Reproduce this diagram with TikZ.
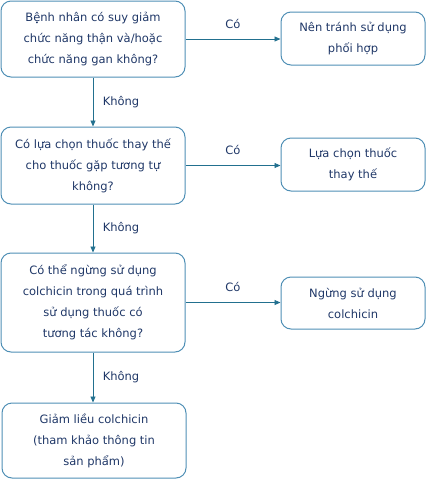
\documentclass[tikz,border=0pt]{standalone}
\usepackage{fontspec}
\setmainfont{DejaVu Sans}
\usetikzlibrary{arrows.meta}
\definecolor{boxline}{HTML}{4F8FB5}
\definecolor{arrowc}{HTML}{22708F}
\definecolor{txt}{HTML}{1F3767}
\tikzset{
  x=1pt,y=-1pt,
  qbox/.style={draw=boxline,line width=1pt,rounded corners=10pt,align=center,text=txt,
    font=\fontsize{11.5}{21}\selectfont,inner sep=0pt},
  conn/.style={draw=arrowc,line width=0.9pt,-{Triangle[length=6pt,width=5pt]}},
  lbl/.style={text=txt,font=\fontsize{11.5}{13}\selectfont}
}
\begin{document}
\begin{tikzpicture}
\useasboundingbox (0,0) rectangle (426,480);
\node[qbox,minimum width=184pt,minimum height=76pt] (q1) at (93,39) {Bệnh nhân có suy giảm\\chức năng thận và/hoặc\\chức năng gan không?};
\node[qbox,minimum width=144pt,minimum height=53pt] (a1) at (353,38.5) {Nên tránh sử dụng\\phối hợp};
\node[qbox,minimum width=184pt,minimum height=77pt] (q2) at (93,165.5) {Có lựa chọn thuốc thay thế\\cho thuốc gặp tương tự\\không?};
\node[qbox,minimum width=144pt,minimum height=53pt] (a2) at (353,164.5) {Lựa chọn thuốc\\thay thế};
\node[qbox,minimum width=184pt,minimum height=99pt] (q3) at (93,302.5) {Có thể ngừng sử dụng\\colchicin trong quá trình\\sử dụng thuốc có\\tương tác không?};
\node[qbox,minimum width=144pt,minimum height=52pt] (a3) at (353,303) {Ngừng sử dụng\\colchicin};
\node[qbox,minimum width=184pt,minimum height=75pt] (q4) at (94,440.5) {Giảm liều colchicin\\(tham khảo thông tin\\sản phẩm)};
\draw[conn] (q1.east) -- (q1.east -| a1.west) node[lbl,midway,above=7pt] {Có};
\draw[conn] (q2.east) -- (q2.east -| a2.west) node[lbl,midway,above=7pt] {Có};
\draw[conn] (q3.east) -- (q3.east -| a3.west) node[lbl,midway,above=7pt] {Có};
\draw[conn] (q1.south) -- (q2.north) node[lbl,midway,right=6pt] {Không};
\draw[conn] (q2.south) -- (q3.north) node[lbl,midway,right=6pt] {Không};
\draw[conn] (q3.south) -- (q4.north -| q3.south) node[lbl,midway,right=6pt] {Không};
\end{tikzpicture}
\end{document}
